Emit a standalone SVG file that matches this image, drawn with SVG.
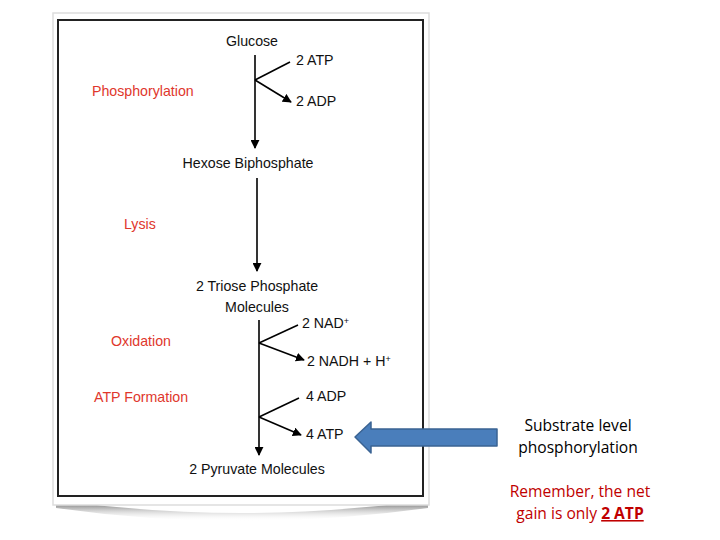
<svg xmlns="http://www.w3.org/2000/svg" width="720" height="540" viewBox="0 0 720 540">
<defs>
<style>
.t{font-family:"Liberation Sans",Arial,sans-serif;font-size:14.2px;fill:#111}
.r{font-family:"Liberation Sans",Arial,sans-serif;font-size:14.2px;fill:#e0372c}
.c{font-family:"Open Sans","Liberation Sans",sans-serif;font-size:15.6px;fill:#000}
.cr{font-family:"Open Sans","Liberation Sans",sans-serif;font-size:15.6px;fill:#c00000}
.ln{stroke:#000;stroke-width:1.6;fill:none}
</style>
<marker id="ah2" viewBox="0 0 10 10" refX="9" refY="5" markerWidth="9" markerHeight="9" orient="auto" markerUnits="userSpaceOnUse">
<path d="M0,0 L10,5 L0,10 Z" fill="#000"/>
</marker>
<linearGradient id="sh" x1="0" y1="0" x2="0" y2="1">
<stop offset="0" stop-color="#444"/>
<stop offset="1" stop-color="#fff" stop-opacity="0"/>
</linearGradient>
</defs>
<rect width="720" height="540" fill="#fff"/>
<g id="frame">
<path d="M56,500 Q240,526 428,500 L428,508 Q240,534 56,508 Z" fill="url(#sh)"/>
<rect x="53" y="13" width="376" height="492" fill="#fff" stroke="#ddd" stroke-width="1.5"/>
<rect x="58" y="20" width="365" height="476" fill="#fff" stroke="#222" stroke-width="2"/>
</g>
<g id="connectors">
<line class="ln" x1="255" y1="55" x2="255" y2="148" marker-end="url(#ah2)"/>
<polyline class="ln" points="290,62 255,80"/>
<line class="ln" x1="255" y1="80" x2="291" y2="102" marker-end="url(#ah2)"/>
<line class="ln" x1="257" y1="178" x2="257" y2="271" marker-end="url(#ah2)"/>
<line class="ln" x1="259" y1="320" x2="259" y2="455" marker-end="url(#ah2)"/>
<polyline class="ln" points="298,325 259,343"/>
<line class="ln" x1="259" y1="343" x2="304" y2="360" marker-end="url(#ah2)"/>
<polyline class="ln" points="299,398 259,417"/>
<line class="ln" x1="259" y1="417" x2="301" y2="435" marker-end="url(#ah2)"/>
</g>
<g id="glucose"><text class="t" x="252" y="46" text-anchor="middle">Glucose</text></g>
<g id="atp1"><text class="t" x="296" y="65">2 ATP</text></g>
<g id="adp1"><text class="t" x="296" y="106">2 ADP</text></g>
<g id="phosphorylation"><text class="r" x="92" y="96">Phosphorylation</text></g>
<g id="hexose"><text class="t" x="248" y="168" text-anchor="middle">Hexose Biphosphate</text></g>
<g id="lysis"><text class="r" x="124" y="229">Lysis</text></g>
<g id="triose"><text class="t" x="257" y="291" text-anchor="middle">2 Triose Phosphate</text><text class="t" x="257" y="312" text-anchor="middle">Molecules</text></g>
<g id="nad"><text class="t" x="302" y="328">2 NAD<tspan font-size="9" dy="-4">+</tspan></text></g>
<g id="oxidation"><text class="r" x="111" y="346">Oxidation</text></g>
<g id="nadh"><text class="t" x="307" y="366">2 NADH + H<tspan font-size="9" dy="-4">+</tspan></text></g>
<g id="atpformation"><text class="r" x="94" y="402">ATP Formation</text></g>
<g id="adp4"><text class="t" x="306" y="401">4 ADP</text></g>
<g id="atp4"><text class="t" x="306" y="439">4 ATP</text></g>
<g id="pyruvate"><text class="t" x="257" y="474" text-anchor="middle">2 Pyruvate Molecules</text></g>
<g id="bluearrow">
<path d="M355,437 L371,422 L371,429 L497,429 L497,446 L371,446 L371,453 Z" fill="#4a7ebb" stroke="#3a6393" stroke-width="1.5" stroke-linejoin="round"/>
</g>
<g id="substrate"><text class="c" x="578" y="431" text-anchor="middle">Substrate level</text><text class="c" x="578" y="453" text-anchor="middle">phosphorylation</text></g>
<g id="remember"><text class="cr" x="580" y="497" text-anchor="middle">Remember, the net</text><text class="cr" x="580" y="519" text-anchor="middle">gain is only <tspan font-weight="bold" text-decoration="underline">2 ATP</tspan></text></g>
</svg>
